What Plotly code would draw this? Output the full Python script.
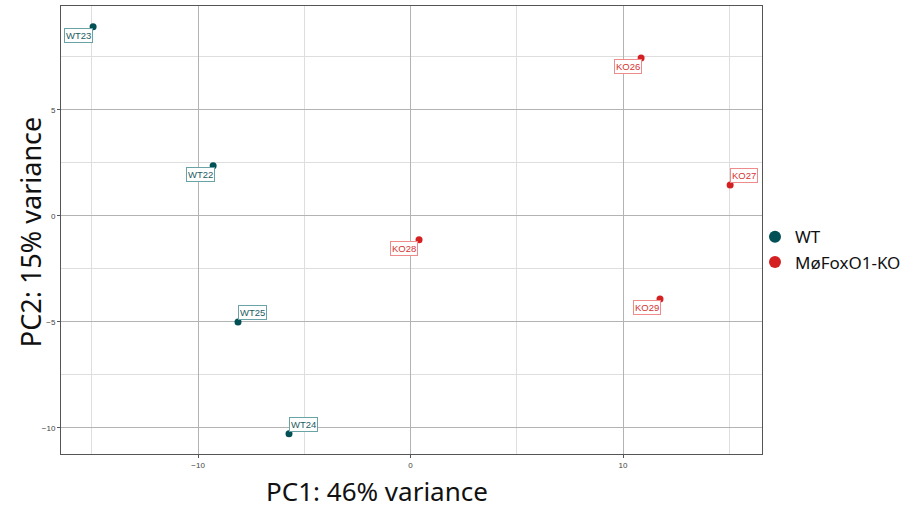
import plotly.graph_objects as go

samples = ["WT23", "WT22", "WT25", "WT24", "KO28", "KO26", "KO27", "KO29"]
groups = ["WT", "WT", "WT", "WT", "MøFoxO1-KO", "MøFoxO1-KO", "MøFoxO1-KO", "MøFoxO1-KO"]
pc1 = [-14.94, -9.29, -8.12, -5.72, 0.40, 10.85, 15.04, 11.74]
pc2 = [8.92, 2.36, -5.00, -10.28, -1.13, 7.45, 1.46, -3.92]
# label offsets in pixels (dx right, dy up) mimicking repelled labels
label_dx = [-15, -13, 14, 14, -15, -13, 14, -13]
label_dy = [-9, -9, 9, 9, -9, -9, 9, -8]

group_order = ["WT", "MøFoxO1-KO"]
point_colors = {"WT": "#005055", "MøFoxO1-KO": "#d42020"}
text_colors = {"WT": "#1d5d63", "MøFoxO1-KO": "#d63333"}
border_colors = {"WT": "#6aa3a6", "MøFoxO1-KO": "#ee8c8c"}

fig = go.Figure()
for g in group_order:
    xs = [x for x, gg in zip(pc1, groups) if gg == g]
    ys = [y for y, gg in zip(pc2, groups) if gg == g]
    fig.add_trace(go.Scatter(
        x=xs, y=ys, mode="markers", name=g,
        marker=dict(size=7, color=point_colors[g]),
    ))

annotations = []
for s, g, x, y, dx, dy in zip(samples, groups, pc1, pc2, label_dx, label_dy):
    annotations.append(dict(
        x=x, y=y, xref="x", yref="y", text=s, showarrow=False,
        xshift=dx, yshift=dy,
        font=dict(family="Liberation Sans, Arial, sans-serif", size=9.5, color=text_colors[g]),
        bgcolor="white", bordercolor=border_colors[g], borderwidth=1, borderpad=1,
    ))

annotations.append(dict(
    text="PC1: 46% variance", xref="paper", yref="paper", x=0.451, y=-0.0826,
    showarrow=False, xanchor="center", yanchor="middle",
    font=dict(family="Noto Sans, sans-serif", size=26, color="#111111"),
))
annotations.append(dict(
    text="PC2: 15% variance", xref="paper", yref="paper", x=-0.044, y=0.4955,
    showarrow=False, xanchor="center", yanchor="middle", textangle=-90,
    font=dict(family="Noto Sans, sans-serif", size=27, color="#111111"),
))

axis_common = dict(
    showline=True, linecolor="#555555", linewidth=1, mirror=True,
    ticks="outside", ticklen=3, tickcolor="#555555",
    tickfont=dict(family="Liberation Sans, Arial, sans-serif", size=8, color="#444444"),
    showgrid=True, gridcolor="#b3b3b3", gridwidth=1, zeroline=False,
)

fig.update_layout(
    width=911, height=508,
    margin=dict(l=61, r=149, t=6, b=54, autoexpand=False),
    plot_bgcolor="white", paper_bgcolor="white",
    xaxis=dict(range=[-16.45, 16.54], dtick=10, tick0=0,
               minor=dict(dtick=5, tick0=0, showgrid=True, gridcolor="#dedede", gridwidth=1, ticks=""),
               **axis_common),
    yaxis=dict(range=[-11.23, 9.9], dtick=5, tick0=0,
               minor=dict(dtick=2.5, tick0=0, showgrid=True, gridcolor="#dedede", gridwidth=1, ticks=""),
               **axis_common),
    legend=dict(x=0.99, y=0.524, xanchor="left", yanchor="top",
                font=dict(family="Noto Sans, sans-serif", size=17, color="#111111"),
                itemsizing="constant", tracegroupgap=0, bgcolor="rgba(0,0,0,0)"),
    annotations=annotations,
    showlegend=True,
)
fig.write_html(
    "out.html",
    config={"displayModeBar": False},
    post_script="document.body.style.margin='0';document.body.style.overflow='hidden';",
)
